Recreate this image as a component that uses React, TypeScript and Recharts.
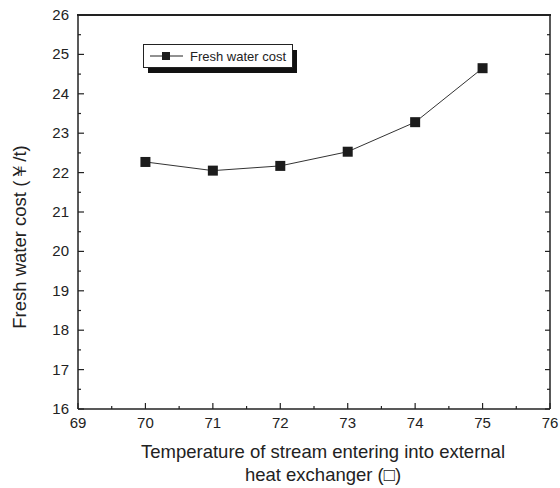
import React from 'react';
import { LineChart, Line, XAxis, YAxis, ReferenceLine } from 'recharts';

const temperatures = [70, 71, 72, 73, 74, 75];
const freshWaterCost = [22.27, 22.05, 22.17, 22.53, 23.28, 24.65];

const xTicks = [69, 69.5, 70, 70.5, 71, 71.5, 72, 72.5, 73, 73.5, 74, 74.5, 75, 75.5, 76];
const yTicks = [16, 16.5, 17, 17.5, 18, 18.5, 19, 19.5, 20, 20.5, 21, 21.5, 22, 22.5, 23, 23.5, 24, 24.5, 25, 25.5, 26];
const xDomain = [69, 76];
const yDomain = [16, 26];

const seriesName = 'Fresh water cost';
const yTitle = 'Fresh water cost (￥/t)';
const xTitle = ['Temperature of stream entering into external', 'heat exchanger (□)'];

const data = temperatures.map((t, i) => ({ t, cost: freshWaterCost[i] }));

const FONT = '"Liberation Sans", Arial, sans-serif';
const INK = '#222';

const isMajor = (v: number) => Number.isInteger(v);

const BottomTick = ({ x, y, payload }: any) => {
  const major = isMajor(payload.value);
  return (
    <g>
      <line x1={x} x2={x} y1={y} y2={y - (major ? 6 : 3)} stroke={INK} strokeWidth={1.2} />
      {major && (
        <text x={x} y={y + 19} textAnchor="middle" fontSize={15} fontFamily={FONT} fill={INK}>
          {payload.value}
        </text>
      )}
    </g>
  );
};

const LeftTick = ({ x, y, payload }: any) => {
  const major = isMajor(payload.value);
  return (
    <g>
      <line x1={x} x2={x + (major ? 6 : 3)} y1={y} y2={y} stroke={INK} strokeWidth={1.2} />
      {major && (
        <text x={x - 9} y={y + 5} textAnchor="end" fontSize={15} fontFamily={FONT} fill={INK}>
          {payload.value}
        </text>
      )}
    </g>
  );
};

const RightTick = ({ x, y, payload }: any) => {
  const major = isMajor(payload.value);
  return <line x1={x} x2={x - (major ? 5 : 3)} y1={y} y2={y} stroke={INK} strokeWidth={1.2} />;
};

const SquareDot = ({ cx, cy }: any) => (
  <rect x={cx - 5} y={cy - 5} width={10} height={10} fill="#1c1c1c" />
);

const LegendBox = () => (
  <svg width={160} height={32} style={{ position: 'absolute', left: 143, top: 44 }}>
    <rect x={5} y={6} width={149} height={23} fill="#111" />
    <rect x={0.5} y={0.5} width={149} height={23} fill="#fff" stroke={INK} strokeWidth={1} />
    <line x1={7} x2={40} y1={12} y2={12} stroke={INK} strokeWidth={1} />
    <rect x={19} y={8} width={8} height={8} fill="#1c1c1c" />
    <text x={47} y={16.5} fontSize={13} fontFamily={FONT} fill={INK}>
      {seriesName}
    </text>
  </svg>
);

const YTitle = ({ viewBox }: any) => (
  <text
    x={viewBox.x + 19}
    y={237}
    transform={`rotate(-90, ${viewBox.x + 19}, 237)`}
    textAnchor="middle"
    dominantBaseline="central"
    fontSize={18.5}
    fontFamily={FONT}
    fill={INK}
  >
    {yTitle}
  </text>
);

const XTitle = () => (
  <text textAnchor="middle" fontSize={18.5} fontFamily={FONT} fill={INK}>
    <tspan x={323} y={458}>{xTitle[0]}</tspan>
    <tspan x={323} y={481}>{xTitle[1]}</tspan>
  </text>
);

export default function App() {
  return (
    <div style={{ position: 'absolute', left: 0, top: 0, width: 560, height: 488, background: '#fff' }}>
      <LineChart
        width={560}
        height={488}
        data={data}
        margin={{ top: 0, right: 0, bottom: 0, left: 0 }}
      >
        <XAxis
          dataKey="t"
          type="number"
          domain={xDomain}
          ticks={xTicks}
          interval={0}
          height={79}
          tickSize={0}
          tickMargin={0}
          tick={<BottomTick />}
          axisLine={{ stroke: INK, strokeWidth: 1.5 }}
          tickLine={false}
          label={{ content: <XTitle /> }}
        />
        <XAxis
          xAxisId="top"
          orientation="top"
          dataKey="t"
          type="number"
          domain={xDomain}
          ticks={xTicks}
          interval={0}
          height={15}
          tick={false}
          tickSize={-4}
          tickLine={{ stroke: INK, strokeWidth: 1.2 }}
          axisLine={{ stroke: INK, strokeWidth: 1.5 }}
        />
        <YAxis
          type="number"
          domain={yDomain}
          ticks={yTicks}
          interval={0}
          width={78}
          tickSize={0}
          tickMargin={0}
          tick={<LeftTick />}
          axisLine={{ stroke: INK, strokeWidth: 1.5 }}
          tickLine={false}
          label={{ content: <YTitle /> }}
        />
        <YAxis
          yAxisId="right"
          orientation="right"
          type="number"
          domain={yDomain}
          ticks={yTicks}
          interval={0}
          width={10}
          tickSize={0}
          tickMargin={0}
          tick={<RightTick />}
          axisLine={{ stroke: INK, strokeWidth: 1.5 }}
          tickLine={false}
        />
        <ReferenceLine y={yDomain[1]} stroke={INK} strokeWidth={1.5} ifOverflow="extendDomain" />
        <Line
          xAxisId="top"
          yAxisId="right"
          type="linear"
          dataKey="cost"
          stroke="transparent"
          dot={false}
          activeDot={false}
          legendType="none"
          isAnimationActive={false}
        />
        <Line
          type="linear"
          dataKey="cost"
          name={seriesName}
          stroke="#333"
          strokeWidth={1}
          dot={<SquareDot />}
          isAnimationActive={false}
        />
      </LineChart>
      {/* top edge of the plot frame */}
      <div style={{ position: 'absolute', left: 77, top: 14, width: 474, height: 1.5, background: INK }} />
      <LegendBox />
    </div>
  );
}
